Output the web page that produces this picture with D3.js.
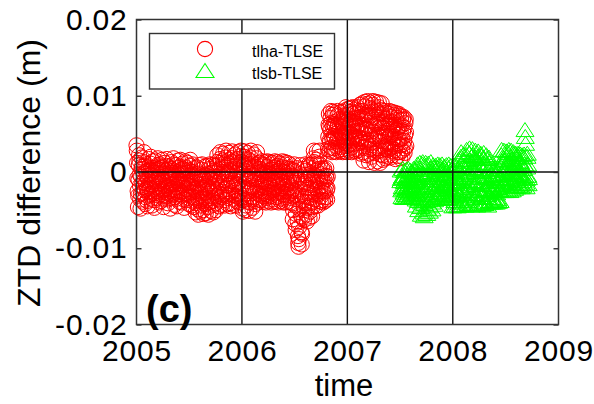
<!DOCTYPE html>
<html>
<head>
<meta charset="utf-8">
<script src="https://cdn.jsdelivr.net/npm/d3@7"></script>
<style>
  html, body { margin: 0; padding: 0; background: #fff; }
  svg { display: block; font-family: "Liberation Sans", Arial, sans-serif; }
</style>
</head>
<body>
<svg id="chart" width="594" height="404"></svg>
<script>
// Axis ticks and labels
const yearTicks = [2005, 2006, 2007, 2008, 2009];
const gridYears = [2006, 2007, 2008];
const yTickValues = [-0.02, -0.01, 0, 0.01, 0.02];
const yTickLabels = ["-0.02", "-0.01", "0", "0.01", "0.02"];
const seriesNames = ["tlha-TLSE", "tlsb-TLSE"];

// tlha - TLSE daily ZTD difference, in millimetres, from 2005-01-01
const tlhaStart = "2005-01-01";
const tlhaDiffMm = [
  3.5, 2.8, 1.2, -0.8, -2.5, -4.6, -3.1, -1.0, 0.9, 2.2, 1.5, -0.3, -1.8, -3.6, -4.8, -2.9, -0.6, 0.4, 1.9, 0.7,
  -1.4, -2.7, -3.9, -2.0, -0.2, 1.3, 2.6, 0.8, -1.1, -2.4, -4.2, -3.3, -1.5, 0.1, 1.0, -0.5, -2.2, -3.8, -4.5, -2.6,
  -0.9, 0.6, 1.7, 0.3, -1.6, -3.0, -2.1, -0.4, 1.1, 2.0, 0.2, -1.3, -2.9, -4.4, -3.5, -1.7, -0.1, 1.4, 0.5, -1.0,
  -2.3, -3.7, -4.7, -2.8, -1.2, 0.3, 1.5, 0.6, -0.7, -2.0, -3.4, -2.5, -0.8, 0.9, 1.8, 0.4, -1.5, -3.1, -4.0, -2.2,
  -0.6, 1.0, 0.2, -1.4, -2.6, -3.8, -2.9, -1.1, 0.5, 1.6, 0.7, -0.9, -2.4, -3.5, -4.6, -3.0, -1.3, -0.2, 1.2, 0.1,
  -1.8, -3.2, -2.1, -0.5, 0.8, 1.7, 0.3, -1.2, -2.7, -4.1, -3.6, -1.9, -0.4, 0.6, -0.8, -2.3, -3.4, -4.8, -2.5, -1.0,
  0.4, 1.3, -0.1, -1.6, -3.0, -2.2, -0.7, 1.0, 1.8, 0.2, -1.4, -2.8, -4.3, -3.3, -1.6, -0.3, 0.9, -0.6, -2.0, -3.5,
  -4.5, -2.7, -1.1, 0.5, 1.5, 0.0, -1.5, -2.9, -3.9, -2.4, -0.8, 0.7, 1.6, 0.3, -1.2, -2.6, -4.0, -3.1, -1.7, -0.2,
  1.1, 0.4, -1.0, -2.5, -3.6, -4.7, -2.8, -1.3, 0.2, 1.4, 0.6, -0.9, -2.2, -3.7, -2.9, -1.4, -0.1, 1.2, 0.3, -1.7,
  -3.0, -4.2, -3.4, -1.8, -0.5, 0.8, 1.6, 0.1, -1.3, -2.7, -4.4, -3.2, -1.5, 0.0, 1.0, -0.4, -2.0, -3.3, -4.6, -2.4,
  -0.9, 0.5, -0.7, -2.2, -3.8, -5.3, -4.1, -2.5, -1.0, 0.6, -0.3, -1.9, -3.4, -4.9, -5.6, -3.6, -1.7, -0.2, 0.9, -0.8,
  -2.4, -3.9, -5.2, -4.4, -2.8, -1.1, 0.3, 1.0, -0.6, -2.1, -3.5, -5.0, -5.5, -3.3, -1.6, -0.4, 0.7, -1.0, -2.6, -4.2,
  -5.4, -3.7, -2.0, -0.5, 0.8, -0.2, -1.8, -3.1, -4.6, -5.6, -4.0, -2.3, -0.9, 0.4, 1.0, -0.7, -2.5, -3.9, -5.1, -3.4,
  -1.7, -0.1, 0.9, -0.6, -2.2, -3.8, -5.3, -4.3, -2.6, -1.2, 0.2, 0.8, -0.9, -2.7, -4.1, -5.0, -3.2, -1.4, 0.1, 1.3,
  2.2, 0.9, -0.6, -2.1, -3.6, -4.5, -2.9, -1.3, 0.4, 1.7, 2.6, 1.2, -0.4, -1.9, -3.3, -4.3, -3.0, -1.5, 0.0, 1.5,
  2.4, 1.0, -0.7, -2.3, -3.7, -4.4, -2.8, -1.0, 0.6, 1.9, 2.8, 1.4, -0.2, -1.7, -3.1, -4.2, -3.4, -1.8, -0.3, 1.1,
  2.5, 1.6, 0.1, -1.5, -2.9, -4.1, -4.5, -2.7, -1.2, 0.3, 1.8, 2.7, 1.3, -0.5, -2.0, -3.5, -4.3, -3.0, -1.4, 0.2,
  1.5, 2.3, 0.8, -0.8, -2.4, -3.8, -4.4, -3.2, -1.6, -0.1, 1.2, 2.6, 1.7, 0.2, -1.3, -2.8, -4.0, -3.4, -1.9, -0.4,
  0.9, 2.1, 2.8, 1.3, -0.3, -1.9, -3.4, -4.8, -5.2, -3.7, -2.1, -0.6, 0.8, 2.0, 2.7, 1.1, -0.5, -2.2, -3.6, -5.0,
  -4.4, -2.8, -1.2, 0.4, 1.7, 2.5, 1.0, -0.7, -2.3, -3.9, -5.1, -4.0, -2.5, -0.9, 0.6, 1.9, 2.8, 1.4, -0.2, -1.8,
  -3.3, -4.7, -3.6, -2.0, -0.4, 1.1, 2.3, 0.7, -0.9, -2.4, -3.8, -5.2, -4.2, -2.6, -1.0, 0.5, 1.8, 2.6, 0.9, -0.8,
  -2.2, -3.6, -4.0, -2.9, -1.4, 0.0, 1.2, 0.4, -1.0, -2.5, -3.7, -3.1, -1.7, -0.3, 1.0, 1.4, 0.1, -1.3, -2.8, -3.9,
  -3.2, -1.8, -0.4, 0.9, 1.3, -0.1, -1.5, -2.9, -4.0, -3.4, -2.0, -0.6, 0.7, 1.4, 0.2, -1.2, -2.6, -3.8, -3.0, -1.6,
  -0.2, 1.0, 1.3, -0.3, -1.8, -3.2, -4.0, -2.7, -1.1, 0.3, 1.2, 0.5, -0.9, -2.4, -3.6, -3.9, -2.3, -0.8, 0.6, 1.4,
  0.0, -1.4, -2.8, -3.9, -3.3, -1.9, -0.5, 0.8, 1.3, -0.2, -1.7, -3.1, -4.0, -2.6, -1.0, 0.4, 1.1, 0.2, -1.3, -2.7,
  -3.8, -3.5, -2.1, -0.7, 0.6, 1.4, 0.1, -1.5, -2.9, -4.0, -3.0, -1.4, 0.0, 1.0, 1.3, -0.4, -1.9, -3.3, -4.0, -2.5,
  -0.9, 0.5, 1.2, 0.0, -1.6, -3.0, -3.9, -2.6, -1.1, 0.4, 1.0, -0.5, -2.0, -3.4, -4.0, -2.8, -1.2, 0.3, -0.8, -2.3,
  -4.1, -6.2, -5.0, -3.2, -1.4, 0.2, 1.0, -0.6, -2.5, -4.4, -6.8, -7.6, -5.5, -3.0, -1.1, 0.5, -0.9, -3.6, -6.5, -8.4,
  -9.3, -9.8, -8.8, -7.2, -4.8, -2.2, -0.3, 0.9, -0.7, -3.1, -5.8, -7.9, -9.5, -8.1, -6.0, -3.8, -1.6, 0.4, -1.3, -4.5,
  -6.3, -5.0, -3.2, -1.5, 0.1, 1.0, -0.4, -2.1, -3.9, -5.6, -6.5, -4.7, -2.8, -1.0, 0.6, 0.9, -0.8, -2.6, -4.4, -6.0,
  -5.2, -3.4, -1.7, -0.2, 1.0, -0.5, -2.2, -4.0, -5.8, -4.6, -2.9, -1.2, 0.5, 1.8, 2.8, 1.3, -0.4, -2.0, -3.6, -4.5,
  -3.0, -1.4, 0.2, 1.6, 2.7, 1.1, -0.6, -2.3, -3.8, -4.4, -2.9, -1.3, 0.4, 2.0, 2.8, 1.0, -0.9, -2.5, -3.9, -3.2,
  -1.8, -0.3, 0.5, -0.8, -2.3, -3.7, -4.0, -2.7, -1.2, 0.2, 0.4, -1.0, -2.5, -3.8, -3.3, -1.9, -0.5, 0.5, -0.9, -2.4,
  -3.6, -2.1, -0.6, 3.0, 4.6, 6.2, 7.6, 5.9, 4.1, 2.8, 3.9, 5.5, 7.1, 8.0, 6.4, 4.8, 3.2, 2.6, 4.3, 6.0,
  7.5, 7.9, 6.3, 4.7, 3.1, 2.7, 4.4, 6.1, 7.7, 6.6, 5.0, 3.4, 2.6, 4.0, 5.7, 7.3, 8.0, 6.2, 4.5, 2.9,
  3.6, 5.3, 6.9, 7.8, 6.0, 4.3, 2.7, 3.3, 5.1, 6.7, 7.9, 6.5, 4.8, 3.0, 2.6, 4.2, 5.9, 7.4, 7.0, 5.4,
  3.8, 2.7, 4.6, 6.4, 8.1, 8.5, 6.8, 5.1, 3.4, 2.6, 4.0, 5.8, 7.5, 8.3, 6.9, 5.2, 3.6, 2.8, 4.5, 6.2,
  7.9, 8.4, 6.6, 4.9, 3.2, 2.6, 4.1, 5.9, 7.6, 8.5, 7.0, 5.3, 3.7, 2.8, 4.4, 6.1, 7.8, 8.2, 6.4, 4.6,
  3.0, 2.7, 4.3, 6.0, 7.7, 8.5, 7.1, 5.4, 3.8, 2.9, 4.5, 6.3, 8.0, 8.8, 7.2, 5.5, 3.9, 2.4, 4.0, 5.8,
  7.6, 9.0, 8.0, 6.2, 4.4, 2.6, 1.5, 3.3, 5.1, 6.9, 8.6, 9.2, 7.5, 5.7, 3.9, 2.2, 3.7, 5.6, 7.4, 8.9,
  9.3, 7.8, 6.0, 4.2, 2.4, 1.3, 3.0, 4.9, 6.7, 8.4, 9.1, 7.4, 5.6, 3.8, 2.0, 3.5, 5.3, 7.1, 8.8, 9.3,
  7.9, 6.1, 4.3, 2.5, 1.2, 2.9, 4.7, 6.5, 8.2, 9.2, 8.0, 6.3, 4.5, 2.7, 1.4, 3.1, 4.9, 6.8, 8.5, 9.1,
  7.7, 5.9, 4.1, 2.3, 1.2, 2.8, 4.6, 6.4, 8.1, 9.0, 7.6, 5.8, 4.0, 2.2, 1.6, 3.4, 5.2, 7.0, 8.0, 6.6,
  4.9, 3.2, 1.8, 3.0, 4.7, 6.3, 7.8, 7.0, 5.4, 3.7, 2.0, 2.9, 4.5, 6.1, 7.6, 8.0, 6.5, 4.8, 3.1, 1.9,
  3.3, 5.0, 6.6, 7.9, 7.2, 5.6, 3.9, 2.2, 2.7, 4.4, 6.0, 7.5, 7.8, 6.2, 4.6, 2.9, 1.7, 3.4, 5.1, 6.8,
  7.7, 7.1, 5.5, 3.8, 2.1, 2.6, 4.3, 5.9, 7.4, 7.6, 6.0, 4.3, 2.6, 1.8, 3.5, 5.2, 6.8, 7.3, 6.1, 4.5,
  2.8, 2.0, 3.6, 5.3, 6.9, 7.2, 5.8, 4.1, 2.5, 3.1, 4.8, 6.4, 6.9, 5.2, 3.4
];

// tlsb - TLSE daily ZTD difference, in millimetres, from 2007-07-05
const tlsbStart = "2007-07-05";
const tlsbDiffMm = [
  -1.2, 0.2, -0.9, -2.4, -3.3, -2.0, -0.6, 0.4, -0.8, -2.2, -3.4, -2.7, -1.3, 0.1, -0.5, -1.9, -3.0, -3.4, -2.1, -0.7,
  0.3, -1.0, -2.5, -3.2, -1.8, -0.4, 0.4, -1.2, -2.8, -3.4, -2.3, -0.9, 0.2, -0.6, -2.0, -3.1, -2.6, -1.1, 0.0, -1.5,
  -2.9, -3.3, -1.7, -0.3, 0.4, -1.0, -2.4, -3.4, -2.2, -0.8, 0.3, -1.3, -2.7, -3.6, -4.4, -2.9, -1.2, 0.5, 1.0, -0.5,
  -2.1, -3.8, -5.0, -3.5, -1.8, -0.1, 1.2, 0.3, -1.4, -3.0, -4.6, -5.6, -4.0, -2.3, -0.6, 1.0, 1.3, -0.2, -1.9, -3.6,
  -5.3, -5.8, -4.2, -2.5, -0.8, 0.8, 1.2, -0.4, -2.1, -3.8, -5.5, -4.8, -3.1, -1.4, 0.3, 1.1, -0.3, -2.0, -3.7, -5.2,
  -4.5, -2.8, -1.1, 0.5, 1.3, 0.0, -1.7, -3.4, -4.9, -4.0, -2.4, -0.7, 0.9, 0.6, -1.1, -2.8, -4.3, -3.7, -2.0, -0.4,
  0.8, 0.2, -1.5, -3.0, -3.5, -2.3, -0.8, 0.6, 1.0, -0.4, -1.9, -3.3, -3.0, -1.6, -0.1, 0.9, 0.4, -1.1, -2.6, -3.5,
  -2.7, -1.2, 0.3, 1.0, -0.3, -1.8, -3.2, -3.4, -2.0, -0.5, 0.7, 0.6, -0.9, -2.4, -3.5, -2.9, -1.4, 0.1, 0.9, -0.2,
  -1.7, -3.1, -3.5, -2.2, -0.7, 0.5, 1.0, -0.5, -2.0, -3.4, -3.1, -1.6, -0.2, 0.8, 0.3, -1.2, -2.7, -3.5, -2.4, -0.9,
  -4.5, -3.0, -1.4, 0.2, 0.8, -0.6, -2.2, -3.8, -4.4, -3.1, -1.5, 0.0, 0.7, -0.8, -2.4, -4.0, -4.5, -2.9, -1.2, 0.4,
  1.6, 0.1, -1.6, -3.2, -4.4, -3.0, -1.3, 0.4, 2.0, 2.6, 1.0, -0.7, -2.4, -4.0, -4.3, -2.6, -0.9, 0.8, 2.3, 1.5,
  -0.2, -1.9, -3.6, -4.4, -2.8, -1.1, 0.6, 2.2, 2.9, 1.3, -0.4, -2.1, -3.8, -4.2, -2.5, -0.8, 0.9, 2.5, 3.1, 1.6,
  -0.1, -1.8, -3.5, -4.4, -2.9, -1.2, 0.5, 2.1, 3.0, 2.2, 0.5, -1.2, -2.9, -4.3, -3.4, -1.7, 0.0, 1.7, 2.8, 1.9,
  0.2, -1.5, -3.2, -4.4, -3.1, -1.4, 0.3, 2.0, 2.7, 1.2, -0.5, -2.2, -3.9, -4.1, -2.4, -0.7, 1.0, 2.4, 2.1, 0.4,
  -1.3, -3.0, -4.3, -3.3, -1.6, 0.1, 1.8, 2.5, 1.0, -0.7, -2.4, -4.0, -4.2, -2.5, -0.8, 0.9, 2.2, 1.7, 0.0, -1.7,
  -3.4, -4.4, -3.0, -1.3, 0.4, 1.9, 1.2, -0.5, -2.2, -3.8, -4.0, -2.6, -0.9, 0.4, -0.3, -1.9, -3.4, -4.0, -2.7, -1.1,
  0.3, -0.6, -2.2, -3.7, -4.0, -2.5, -0.9, 0.4, -0.4, -2.0, -3.5, -4.0, -2.8, -1.2, 0.2, -0.5, -2.1, -3.6, -3.9, -2.4,
  -0.8, 0.4, -0.8, -2.3, -3.8, -2.5, -0.9, 0.7, 2.2, 2.9, 1.4, -0.2, -1.7, -2.5, -1.3, 0.3, 1.8, 2.8, 1.5, -0.1,
  -1.6, -2.5, -1.5, 0.1, 1.6, 2.7, 2.0, 0.4, -1.1, -2.4, -1.8, -0.3, 1.2, 2.5, 2.9, 1.2, -0.4, -1.9, -2.5, -1.1,
  0.5, 2.0, 2.8, 1.6, 0.0, -1.5, -2.4, -1.4, 0.2, 1.7, 2.6, 2.3, 0.7, -0.9, -2.2, -1.9, -0.4, 1.1, 2.4, 1.9,
  0.3, -1.2, -2.0, -1.0, 0.5, 2.0, 2.4, 1.1, -0.4, -1.8, -1.6, -0.1, 1.4, 2.3, 1.3, -0.2, -1.6, -2.0, -0.7, 0.8,
  2.2, 0.8, -0.6, -1.8, -1.2, 0.4, 1.9, 2.3, 1.0, -0.5, 5.5, 4.6, 3.7, -1.4, -2.0, -0.9, 0.6, 2.0, 2.4, 1.0,
  -0.5, -1.6, -0.8
];

// Build dated records (metres) from a daily series in millimetres
function toRecords(start, valuesMm) {
  const t0 = d3.timeParse("%Y-%m-%d")(start);
  return valuesMm.map((v, i) => ({ date: d3.timeDay.offset(t0, i), value: v / 1000 }));
}
const tlha = toRecords(tlhaStart, tlhaDiffMm);
const tlsb = toRecords(tlsbStart, tlsbDiffMm);

const svg = d3.select("#chart");
const plot = { left: 136.5, right: 558.5, top: 19.5, bottom: 324.5 };
const yearDate = yr => new Date(yr, 0, 1);

const x = d3.scaleTime()
  .domain([yearDate(yearTicks[0]), yearDate(yearTicks[yearTicks.length - 1])])
  .range([plot.left, plot.right]);
const y = d3.scaleLinear()
  .domain([yTickValues[0], yTickValues[yTickValues.length - 1]])
  .range([plot.bottom, plot.top]);

const axisColor = "#333";
const red = "#ff0000", green = "#00ff00";

// Markers
const circleR = 7.6;
const triangle = "M0,-7.5L9,6.5L-9,6.5Z";

svg.append("g")
  .selectAll("circle").data(tlha).join("circle")
  .attr("cx", d => x(d.date)).attr("cy", d => y(d.value)).attr("r", circleR)
  .attr("fill", "none").attr("stroke", red).attr("stroke-width", 1);

svg.append("g")
  .selectAll("path").data(tlsb).join("path")
  .attr("transform", d => `translate(${x(d.date)},${y(d.value)})`)
  .attr("d", triangle)
  .attr("fill", "none").attr("stroke", green).attr("stroke-width", 1);

// Reference lines at each year and at zero
svg.append("g").selectAll("line").data(gridYears).join("line")
  .attr("x1", d => x(yearDate(d))).attr("x2", d => x(yearDate(d)))
  .attr("y1", plot.top).attr("y2", plot.bottom)
  .attr("stroke", "#111").attr("stroke-width", 1.4);
svg.append("line")
  .attr("x1", plot.left).attr("x2", plot.right)
  .attr("y1", y(0)).attr("y2", y(0))
  .attr("stroke", "#111").attr("stroke-width", 1.6);

// Axes
const fmtY = v => yTickLabels[yTickValues.indexOf(v)];
const yLeft = svg.append("g").attr("transform", `translate(${plot.left},0)`)
  .call(d3.axisLeft(y).tickValues(yTickValues).tickFormat(fmtY).tickSizeInner(-5).tickSizeOuter(0).tickPadding(9));
const yRight = svg.append("g").attr("transform", `translate(${plot.right},0)`)
  .call(d3.axisRight(y).tickValues(yTickValues).tickFormat("").tickSizeInner(-5).tickSizeOuter(0));
const xBottom = svg.append("g").attr("transform", `translate(0,${plot.bottom})`)
  .call(d3.axisBottom(x).tickValues(yearTicks.map(yearDate)).tickFormat(d3.timeFormat("%Y")).tickSizeInner(0).tickSizeOuter(0));

[yLeft, yRight, xBottom].forEach(g => {
  g.select(".domain").remove();
  g.selectAll("line").attr("stroke", axisColor).attr("stroke-width", 1.4);
  g.selectAll("text").attr("fill", "#000").attr("font-size", 30)
    .attr("font-family", "'Liberation Sans', Arial, sans-serif").style("letter-spacing", "0.8px");
});
xBottom.selectAll("text").attr("dy", null).attr("y", 36);

// Frame
svg.append("rect")
  .attr("x", plot.left).attr("y", plot.top)
  .attr("width", plot.right - plot.left).attr("height", plot.bottom - plot.top)
  .attr("fill", "none").attr("stroke", axisColor).attr("stroke-width", 1.5);

// Axis titles
svg.append("text")
  .attr("x", 344).attr("y", 396).attr("text-anchor", "middle")
  .attr("font-size", 31).text("time");
svg.append("text")
  .attr("transform", "translate(40,173) rotate(-90)")
  .attr("text-anchor", "middle").attr("font-size", 32)
  .text("ZTD difference (m)");

// Panel tag
svg.append("text")
  .attr("x", 146).attr("y", 322)
  .attr("font-size", 38).attr("font-weight", "bold").text("(c)");

// Legend
const legend = svg.append("g");
legend.append("rect")
  .attr("x", 149.5).attr("y", 33.5).attr("width", 185).attr("height", 55.5)
  .attr("fill", "#fff").attr("stroke", axisColor).attr("stroke-width", 1.4);
legend.append("circle").attr("cx", 205).attr("cy", 49).attr("r", circleR)
  .attr("fill", "none").attr("stroke", red).attr("stroke-width", 1.1);
legend.append("path").attr("transform", "translate(205,71)").attr("d", triangle)
  .attr("fill", "none").attr("stroke", green).attr("stroke-width", 1.1);
legend.selectAll("text.lbl").data(seriesNames).join("text")
  .attr("class", "lbl")
  .attr("x", 252).attr("y", (d, i) => 56.5 + i * 22)
  .attr("font-size", 16).text(d => d);
</script>
</body>
</html>
